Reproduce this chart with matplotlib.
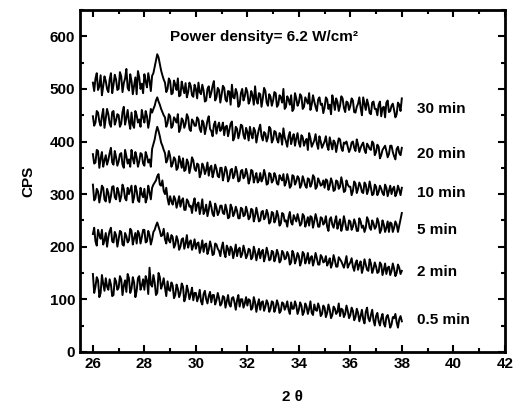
import numpy as np
import matplotlib
matplotlib.use("Agg")
import matplotlib.pyplot as plt
from matplotlib.ticker import MultipleLocator

plt.rcParams['font.family'] = ['Liberation Sans', 'DejaVu Sans']
plt.rcParams['font.weight'] = 'bold'

# 2-theta grid, 26..38 deg, step 0.1, plus the in-between readings at +0.05
two_theta = np.round(np.linspace(26.0, 38.0, 121), 1)
two_theta_mid = np.round(np.linspace(26.05, 37.95, 120), 2)

cps_30min = [512, 520, 498, 526, 505, 515, 494, 530, 508, 518,
             500, 524, 511, 538, 497, 515, 506, 490, 522, 510,
             528, 503, 516, 525, 542, 566, 548, 526, 512, 500,
             515, 492, 508, 520, 488, 502, 511, 494, 506, 485,
             500, 512, 490, 497, 478, 505, 493, 515, 484, 498,
             489, 502, 476, 495, 508, 482, 492, 470, 500, 486,
             494, 478, 488, 505, 472, 490, 482, 496, 468, 485,
             478, 492, 470, 484, 500, 466, 480, 488, 462, 482,
             474, 486, 466, 478, 492, 470, 476, 458, 484, 472,
             465, 480, 470, 488, 460, 475, 468, 482, 456, 474,
             468, 478, 455, 472, 464, 484, 460, 470, 452, 476,
             462, 470, 448, 466, 474, 456, 468, 460, 452, 470,
             482]
cps_30min_mid = [496, 530, 505, 488, 524, 500, 518, 492, 527, 498,
                 532, 494, 520, 502, 528, 490, 522, 534, 500, 492,
                 514, 530, 496, 530, 555, 560, 535, 518, 494, 520,
                 490, 516, 498, 486, 514, 492, 484, 512, 488, 508,
                 482, 494, 508, 476, 500, 484, 506, 478, 502, 474,
                 506, 480, 496, 470, 484, 500, 466, 492, 478, 502,
                 472, 496, 470, 480, 492, 466, 502, 474, 490, 468,
                 494, 466, 488, 474, 462, 486, 470, 458, 492, 468,
                 490, 462, 484, 472, 460, 488, 466, 480, 470, 454,
                 484, 462, 452, 476, 482, 458, 486, 464, 476, 460,
                 482, 456, 466, 484, 450, 472, 480, 454, 474, 462,
                 450, 476, 464, 446, 478, 458, 472, 446, 474, 458]

cps_20min = [448, 436, 455, 430, 462, 444, 452, 428, 458, 440,
             450, 434, 466, 445, 438, 455, 426, 450, 442, 460,
             436, 448, 440, 455, 468, 484, 470, 456, 446, 435,
             448, 430, 442, 452, 425, 440, 434, 446, 420, 438,
             430, 442, 418, 435, 426, 448, 420, 432, 415, 436,
             425, 412, 430, 422, 438, 408, 424, 416, 430, 405,
             418, 428, 406, 420, 412, 432, 402, 415, 408, 424,
             404, 418, 398, 412, 425, 400, 410, 395, 414, 406,
             398, 412, 392, 405, 416, 390, 402, 396, 410, 388,
             400, 392, 408, 385, 398, 394, 404, 382, 396, 390,
             386, 400, 382, 394, 388, 398, 378, 392, 384, 396,
             380, 390, 374, 388, 382, 376, 392, 372, 386, 378,
             388]
cps_20min_mid = [430, 458, 438, 448, 426, 462, 434, 456, 432, 452,
                 428, 456, 432, 460, 424, 432, 458, 436, 428, 446,
                 458, 426, 462, 462, 478, 476, 462, 450, 428, 452,
                 426, 446, 436, 418, 444, 426, 452, 424, 442, 430,
                 446, 424, 440, 414, 440, 424, 410, 438, 428, 420,
                 436, 428, 410, 434, 402, 428, 406, 432, 412, 426,
                 402, 414, 426, 398, 424, 410, 418, 400, 428, 398,
                 420, 404, 416, 394, 408, 390, 418, 406, 392, 416,
                 390, 408, 400, 384, 406, 396, 414, 386, 400, 394,
                 410, 384, 396, 402, 380, 406, 388, 398, 400, 380,
                 398, 388, 404, 380, 394, 384, 396, 386, 400, 374,
                 394, 368, 384, 392, 370, 392, 380, 366, 390, 374]

cps_10min = [376, 360, 382, 368, 352, 374, 365, 388, 356, 370,
             362, 378, 350, 372, 366, 384, 358, 370, 362, 376,
             354, 372, 366, 386, 404, 428, 410, 392, 378, 366,
             372, 358, 366, 350, 362, 368, 346, 360, 352, 364,
             344, 356, 340, 352, 346, 335, 354, 342, 348, 332,
             350, 338, 344, 330, 348, 336, 342, 326, 346, 334,
             338, 328, 344, 332, 322, 340, 330, 336, 320, 338,
             326, 334, 318, 330, 338, 322, 328, 316, 334, 324,
             330, 318, 326, 312, 328, 320, 332, 314, 324, 318,
             312, 326, 316, 322, 308, 324, 314, 320, 306, 318,
             314, 306, 320, 310, 316, 302, 318, 308, 312, 300,
             314, 304, 310, 298, 312, 306, 300, 314, 302, 308,
             312]
cps_10min_mid = [358, 384, 350, 380, 364, 356, 378, 360, 382, 354,
                 376, 356, 384, 358, 352, 368, 380, 352, 378, 358,
                 380, 360, 352, 395, 418, 420, 398, 384, 360, 382,
                 352, 370, 346, 372, 350, 344, 366, 340, 370, 348,
                 358, 332, 358, 338, 360, 350, 332, 356, 334, 350,
                 326, 352, 324, 346, 330, 352, 324, 344, 330, 348,
                 320, 346, 322, 340, 326, 324, 346, 318, 340, 322,
                 340, 320, 336, 326, 316, 338, 312, 336, 318, 334,
                 312, 334, 316, 330, 314, 336, 310, 330, 316, 326,
                 328, 308, 330, 306, 326, 310, 332, 304, 326, 314,
                 298, 324, 302, 322, 304, 322, 300, 324, 298, 318,
                 298, 316, 302, 318, 296, 316, 310, 296, 316, 298]

cps_5min = [318, 292, 305, 298, 312, 286, 302, 296, 315, 290,
            304, 296, 310, 288, 300, 316, 294, 306, 285, 300,
            310, 292, 304, 312, 322, 334, 318, 326, 300, 292,
            296, 280, 290, 284, 276, 292, 270, 286, 278, 282,
            268, 284, 274, 262, 280, 270, 276, 258, 274, 266,
            278, 262, 270, 256, 274, 264, 268, 254, 272, 260,
            266, 256, 270, 258, 262, 250, 268, 256, 262, 248,
            264, 252, 258, 244, 262, 250, 256, 246, 260, 248,
            252, 244, 258, 246, 240, 256, 248, 252, 238, 254,
            246, 238, 252, 242, 248, 234, 252, 240, 246, 232,
            248, 238, 244, 230, 248, 240, 236, 250, 232, 244,
            238, 246, 232, 242, 236, 228, 244, 236, 242, 240,
            264]
cps_5min_mid = [288, 310, 284, 316, 290, 310, 284, 314, 294, 312,
                286, 318, 292, 312, 308, 284, 316, 288, 312, 294,
                284, 316, 290, 318, 326, 338, 316, 306, 312, 280,
                286, 296, 274, 296, 288, 270, 290, 276, 264, 292,
                280, 262, 290, 268, 258, 286, 262, 282, 260, 278,
                264, 280, 254, 280, 258, 276, 254, 274, 258, 276,
                252, 272, 248, 274, 248, 266, 252, 270, 244, 266,
                246, 268, 240, 264, 248, 238, 266, 242, 254, 262,
                240, 262, 238, 256, 258, 236, 262, 238, 256, 242,
                258, 230, 256, 236, 258, 244, 230, 258, 232, 250,
                232, 252, 230, 254, 236, 228, 256, 236, 250, 234,
                254, 226, 250, 228, 248, 246, 228, 248, 228, 252]

cps_2min = [224, 210, 232, 215, 204, 226, 218, 236, 208, 222,
            214, 228, 202, 220, 212, 230, 216, 206, 224, 218,
            232, 210, 222, 214, 232, 246, 230, 222, 214, 226,
            208, 218, 204, 212, 200, 216, 206, 198, 212, 202,
            196, 208, 198, 190, 206, 194, 200, 186, 204, 192,
            198, 188, 202, 184, 196, 190, 182, 198, 186, 192,
            184, 194, 180, 190, 186, 178, 194, 182, 188, 176,
            190, 180, 186, 174, 188, 178, 184, 170, 186, 176,
            182, 172, 186, 176, 168, 182, 174, 178, 166, 180,
            172, 164, 178, 168, 174, 162, 176, 166, 170, 160,
            170, 162, 168, 156, 172, 160, 166, 154, 168, 158,
            162, 152, 166, 156, 148, 162, 154, 158, 150, 160,
            154]
cps_2min_mid = [236, 202, 222, 232, 212, 200, 230, 210, 228, 200,
                230, 204, 226, 208, 234, 204, 226, 230, 206, 232,
                208, 230, 204, 228, 240, 238, 220, 234, 206, 212,
                222, 198, 220, 194, 214, 196, 222, 208, 194, 214,
                206, 188, 212, 204, 186, 210, 184, 206, 196, 182,
                208, 180, 196, 200, 178, 204, 194, 180, 202, 178,
                196, 176, 200, 174, 196, 190, 172, 198, 174, 192,
                172, 194, 170, 192, 176, 190, 166, 192, 168, 188,
                164, 190, 168, 188, 178, 164, 188, 166, 184, 170,
                182, 170, 160, 184, 162, 180, 172, 160, 182, 166,
                178, 154, 174, 166, 150, 176, 156, 176, 150, 170,
                150, 170, 146, 168, 160, 146, 168, 144, 166, 148]

cps_05min = [148, 124, 136, 112, 130, 140, 118, 128, 108, 134,
             122, 138, 126, 114, 140, 120, 132, 116, 144, 126,
             118, 136, 160, 124, 132, 112, 142, 128, 122, 134,
             116, 126, 108, 120, 112, 124, 104, 116, 110, 98,
             112, 104, 96, 110, 100, 106, 94, 108, 98, 102,
             92, 104, 96, 90, 102, 94, 98, 86, 100, 92,
             88, 98, 84, 94, 90, 80, 96, 86, 92, 82,
             94, 84, 90, 78, 92, 86, 80, 94, 82, 88,
             80, 88, 76, 86, 82, 74, 90, 78, 84, 72,
             84, 74, 80, 70, 82, 76, 68, 80, 72, 78,
             70, 78, 66, 74, 68, 62, 76, 64, 70, 60,
             68, 58, 64, 54, 66, 60, 52, 64, 56, 62,
             58]
cps_05min_mid = [112, 142, 104, 146, 116, 124, 138, 106, 140, 118,
                 144, 108, 136, 148, 112, 142, 104, 140, 118, 138,
                 144, 110, 128, 146, 108, 150, 120, 140, 106, 118,
                 132, 102, 128, 104, 130, 96, 126, 100, 122, 112,
                 96, 118, 90, 116, 92, 114, 108, 90, 112, 88,
                 106, 84, 108, 86, 104, 80, 108, 100, 84, 104,
                 100, 80, 104, 76, 100, 94, 78, 98, 76, 96,
                 76, 98, 74, 94, 80, 96, 72, 82, 96, 72,
                 94, 70, 92, 72, 96, 70, 80, 92, 68, 88,
                 66, 90, 64, 86, 72, 92, 82, 66, 88, 64,
                 84, 60, 82, 58, 80, 54, 84, 58, 80, 50,
                 74, 50, 72, 48, 70, 46, 66, 72, 46, 68]

series = [(cps_30min, cps_30min_mid), (cps_20min, cps_20min_mid),
          (cps_10min, cps_10min_mid), (cps_5min, cps_5min_mid),
          (cps_2min, cps_2min_mid), (cps_05min, cps_05min_mid)]
labels = ['30 min', '20 min', '10 min', '5 min', '2 min', '0.5 min']
label_y = [461, 376, 303, 232, 152, 60]

x_all = np.concatenate([two_theta, two_theta_mid])
order = np.argsort(x_all)

fig = plt.figure(figsize=(5.13, 4.03), dpi=100)
ax = fig.add_axes([0.156, 0.127, 0.828, 0.848])

for (s, s_mid), lab, ly in zip(series, labels, label_y):
    y_all = np.concatenate([s, s_mid])
    ax.plot(x_all[order], y_all[order], color='black', lw=1.4)
    ax.text(38.6, ly, lab, fontsize=11, fontweight='bold', va='center')

ax.text(29.0, 598, 'Power density= 6.2 W/cm²', fontsize=11,
        fontweight='bold', va='center')

ax.set_xlim(25.5, 42)
ax.set_ylim(0, 650)
ax.xaxis.set_major_locator(MultipleLocator(2))
ax.xaxis.set_minor_locator(MultipleLocator(1))
ax.yaxis.set_major_locator(MultipleLocator(100))
ax.yaxis.set_minor_locator(MultipleLocator(50))
ax.tick_params(which='both', direction='in', top=True, right=True,
               width=1.5, labelsize=11)
ax.tick_params(which='major', length=5)
ax.tick_params(which='minor', length=3)
for lbl in ax.get_xticklabels() + ax.get_yticklabels():
    lbl.set_fontweight('bold')
for sp in ax.spines.values():
    sp.set_linewidth(2)

ax.set_xlabel('2 θ', fontsize=11, fontweight='bold', labelpad=14)
ax.set_ylabel('CPS', fontsize=11, fontweight='bold', labelpad=10)

fig.savefig('out.png', dpi=100)
